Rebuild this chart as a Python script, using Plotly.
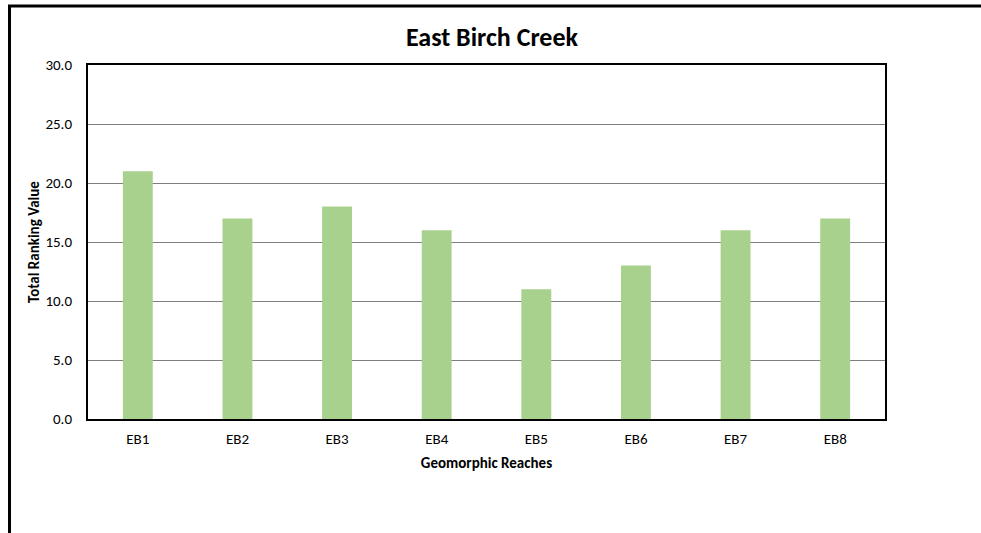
import plotly.graph_objects as go

categories = ["EB1", "EB2", "EB3", "EB4", "EB5", "EB6", "EB7", "EB8"]
values = [21, 17, 18, 16, 11, 13, 16, 17]
y_ticks = [0, 5, 10, 15, 20, 25, 30]
y_tick_labels = ["0.0", "5.0", "10.0", "15.0", "20.0", "25.0", "30.0"]

W, H = 981, 533
L, R, T, B = 88, 885, 65, 419
pw, ph = R - L, B - T

def px(x):
    return (x - L) / pw

def py(y):
    return (B - y) / ph

font = "Carlito, Calibri, Lato, 'Open Sans', sans-serif"

fig = go.Figure(go.Bar(
    x=categories, y=values, width=0.3,
    marker=dict(color="#A9D18E", line=dict(width=0)),
))

fig.update_layout(
    width=W, height=H,
    margin=dict(l=L, r=W - R, t=T, b=H - B),
    paper_bgcolor="white", plot_bgcolor="white",
    showlegend=False,
    font=dict(family=font, size=15, color="#000000"),
    title=dict(text="<b>East Birch Creek</b>", x=(492) / W, xanchor="center",
               y=1 - 37 / H, yanchor="middle",
               font=dict(family=font, size=26, color="#000000")),
    bargap=0.7,
)
fig.update_xaxes(
    showline=True, linecolor="black", linewidth=2, mirror=True,
    showgrid=False, ticks="", tickfont=dict(size=15), ticklabelstandoff=5,
    title=dict(text="<b>Geomorphic Reaches</b>", font=dict(size=15), standoff=10),
)
fig.update_yaxes(
    range=[0, 30], tickvals=y_ticks, ticktext=y_tick_labels,
    showline=True, linecolor="black", linewidth=2, mirror=True,
    showgrid=True, gridcolor="#7f7f7f", gridwidth=1, zeroline=False,
    ticks="", tickfont=dict(size=15), ticklabelstandoff=11,
    title=dict(text="<b>Total Ranking Value</b>", font=dict(size=15), standoff=2),
)

# outer chart frame (left and top edges visible)
fig.add_shape(type="line", xref="paper", yref="paper",
              x0=px(9.5), x1=px(9.5), y0=py(H + 5), y1=py(6),
              line=dict(color="black", width=3))
fig.add_shape(type="line", xref="paper", yref="paper",
              x0=px(8), x1=px(W + 5), y0=py(6), y1=py(6),
              line=dict(color="black", width=3))

fig.write_html("out.html")
